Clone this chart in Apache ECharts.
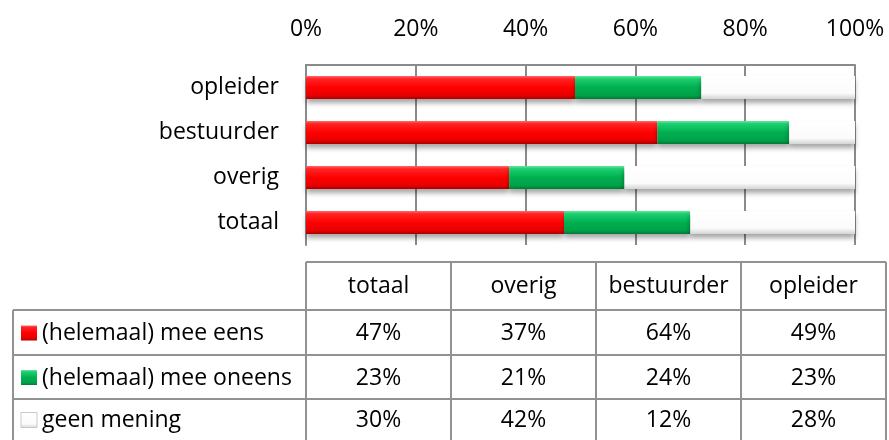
<!DOCTYPE html>
<html>
<head>
<meta charset="utf-8">
<script src="https://cdn.jsdelivr.net/npm/echarts@6/dist/echarts.min.js"></script>
<style>
  html, body { margin: 0; padding: 0; background: #fff; }
  #chart { width: 889px; height: 440px; }
</style>
</head>
<body>
<div id="chart"></div>
<script>
  // data, bottom-to-top in the chart = left-to-right in the table
  const categories = ['totaal', 'overig', 'bestuurder', 'opleider'];
  const seriesNames = ['(helemaal) mee eens', '(helemaal) mee oneens', 'geen mening'];
  const meeEens = [47, 37, 64, 49];
  const meeOneens = [23, 21, 24, 23];
  const geenMening = [30, 42, 12, 28];

  const FONT = 'Open Sans';
  const FS = 23;

  function grad(stops) {
    return new echarts.graphic.LinearGradient(0, 0, 0, 1, stops.map(c => ({ offset: c[0], color: c[1] })));
  }
  const redFill = grad([[0, '#ff6a6a'], [0.12, '#ff2424'], [0.5, '#ff0000'], [0.85, '#e60000'], [1, '#a80000']]);
  const greenFill = grad([[0, '#66e6a0'], [0.12, '#1ccf70'], [0.5, '#00b050'], [0.85, '#00a048'], [1, '#007a35']]);
  const whiteFill = grad([[0, '#ffffff'], [0.75, '#fbfbfb'], [1, '#d4d4d4']]);
  const fills = [redFill, greenFill, whiteFill];
  const values = [meeEens, meeOneens, geenMening];

  // data table below the chart
  const tblLeft = 13, colLeft = 306, colW = 145;
  const rowLines = [262, 310, 355, 399, 445];
  const lineColor = '#929292';
  const tableEls = [];
  const tblRight = colLeft + colW * categories.length;
  function hline(x1, x2, y) {
    tableEls.push({ type: 'line', shape: { x1: x1, y1: y, x2: x2, y2: y }, style: { stroke: lineColor, lineWidth: 2 } });
  }
  function vline(x, y1, y2) {
    tableEls.push({ type: 'line', shape: { x1: x, y1: y1, x2: x, y2: y2 }, style: { stroke: lineColor, lineWidth: 2 } });
  }
  function txt(s, x, y, align) {
    tableEls.push({ type: 'text', x: x, y: y, style: { text: s, fontSize: FS, fontFamily: FONT, fill: '#000', align: align, verticalAlign: 'middle' } });
  }
  hline(colLeft, tblRight, rowLines[0]);
  for (let r = 1; r < rowLines.length - 1; r++) hline(tblLeft, tblRight, rowLines[r]);
  vline(tblLeft, rowLines[1], rowLines[4]);
  for (let c = 0; c <= categories.length; c++) vline(colLeft + c * colW, rowLines[0], rowLines[4]);
  categories.forEach((cat, c) => {
    txt(cat, colLeft + c * colW + colW / 2, (rowLines[0] + rowLines[1]) / 2, 'center');
  });
  seriesNames.forEach((name, r) => {
    const yMid = (rowLines[r + 1] + Math.min(rowLines[r + 2], 440)) / 2 + 1;
    tableEls.push({
      type: 'rect', shape: { x: 21, y: yMid - 8, width: 16, height: 15 },
      style: { fill: fills[r], stroke: r === 2 ? '#c8c8c8' : null, lineWidth: 1 }
    });
    txt(name, 42, yMid, 'left');
    values[r].forEach((v, c) => {
      txt(v + '%', colLeft + c * colW + colW / 2, yMid, 'center');
    });
  });

  const myChart = echarts.init(document.getElementById('chart'));
  const barStyle = (fill) => ({
    color: fill,
    shadowColor: 'rgba(0,0,0,0.35)',
    shadowBlur: 5,
    shadowOffsetY: 4
  });

  const option = {
    animation: false,
    grid: { left: 306, right: 34, top: 65, height: 180 },
    xAxis: {
      type: 'value',
      position: 'top',
      min: 0,
      max: 100,
      interval: 20,
      axisLine: { show: true, lineStyle: { color: '#8a8a8a', width: 2 } },
      axisTick: { show: false },
      axisLabel: { formatter: '{value}%', color: '#000', fontSize: FS, fontFamily: FONT, margin: 24 },
      splitLine: { show: true, lineStyle: { color: '#8a8a8a', width: 2 } }
    },
    yAxis: {
      type: 'category',
      data: categories,
      axisLine: { show: true, lineStyle: { color: '#8a8a8a', width: 2 } },
      axisTick: { show: false },
      axisLabel: { color: '#000', fontSize: FS, fontFamily: FONT, margin: 27 }
    },
    series: seriesNames.map((name, i) => ({
      name: name,
      type: 'bar',
      stack: 'total',
      barWidth: 23,
      itemStyle: barStyle(fills[i]),
      data: values[i]
    })),
    graphic: tableEls
  };

  myChart.setOption(option);
  window.addEventListener('resize', () => myChart.resize(), false);
</script>
</body>
</html>
